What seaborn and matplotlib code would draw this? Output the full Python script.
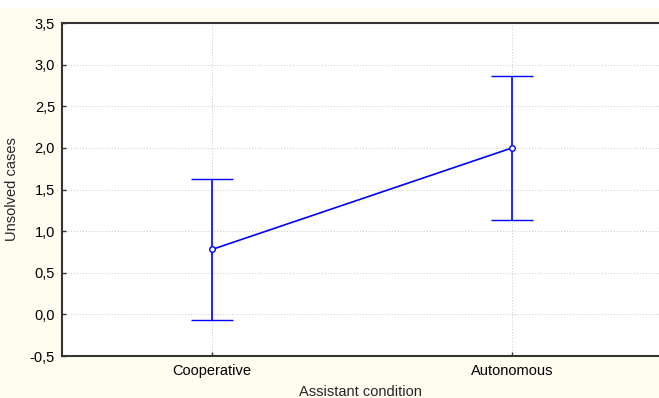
import pandas as pd
import matplotlib
matplotlib.use("Agg")
import matplotlib.pyplot as plt
import matplotlib.patches as patches
import seaborn as sns
from matplotlib.ticker import FuncFormatter

# data
conditions = ["Cooperative", "Autonomous"]
means = [0.78, 2.0]
lower = [-0.07, 1.14]
upper = [1.63, 2.86]
y_ticks = [-0.5, 0, 0.5, 1.0, 1.5, 2.0, 2.5, 3.0, 3.5]

df = pd.DataFrame({"condition": conditions, "unsolved": means})

sns.set_style("white")
plt.rcParams["font.family"] = ["Liberation Sans", "DejaVu Sans"]
plt.rcParams["font.size"] = 10.5

cream = "#fffcf0"
fig = plt.figure(figsize=(6.59, 3.98), dpi=100, facecolor=cream)
# white strip along the very top
fig.patches.append(patches.Rectangle((0, 0.98), 1, 0.02, transform=fig.transFigure,
                                     facecolor="white", edgecolor="none", zorder=0))
ax = fig.add_axes([0.094, 0.1055, 0.906, 0.8365])
ax.set_facecolor("white")

# error bars
for i, (m, lo, hi) in enumerate(zip(means, lower, upper)):
    ax.errorbar(i, m, yerr=[[m - lo], [hi - m]], fmt="none", ecolor="#0000ff",
                elinewidth=1.2, capsize=15, capthick=1.2, zorder=2)

sns.pointplot(data=df, x="condition", y="unsolved", color="#0000ff",
              errorbar=None, markers="o", linewidth=1.2, markersize=4,
              ax=ax, zorder=3)
for line in ax.lines:
    line.set_markerfacecolor("white")
    line.set_markeredgecolor("#0000ff")
    line.set_markeredgewidth(1.0)

ax.set_xlim(-0.5, 1.49)
ax.set_ylim(-0.5, 3.5)
ax.set_yticks(y_ticks)
ax.yaxis.set_major_formatter(FuncFormatter(lambda v, p: f"{v:.1f}".replace(".", ",")))
ax.grid(True, color="#c8c8c8", linestyle=(0, (1, 2)), linewidth=0.7)
ax.set_axisbelow(True)
ax.tick_params(direction="in", length=3, width=1, colors="#333333", labelcolor="black",
               left=True, bottom=True, labelsize=10.5)
ax.tick_params(axis="x", pad=6)
ax.tick_params(axis="y", pad=5)

for side in ["left", "top", "bottom"]:
    ax.spines[side].set_color("#333333")
    ax.spines[side].set_linewidth(1.5)
ax.spines["right"].set_visible(False)

ax.set_xlabel("Assistant condition", fontsize=10.5)
ax.set_ylabel("Unsolved cases", fontsize=10.5)
ax.xaxis.set_label_coords(0.5, -0.087)
ax.yaxis.set_label_coords(-0.072, 0.5)

fig.savefig("out.png", dpi=100, facecolor=cream)
